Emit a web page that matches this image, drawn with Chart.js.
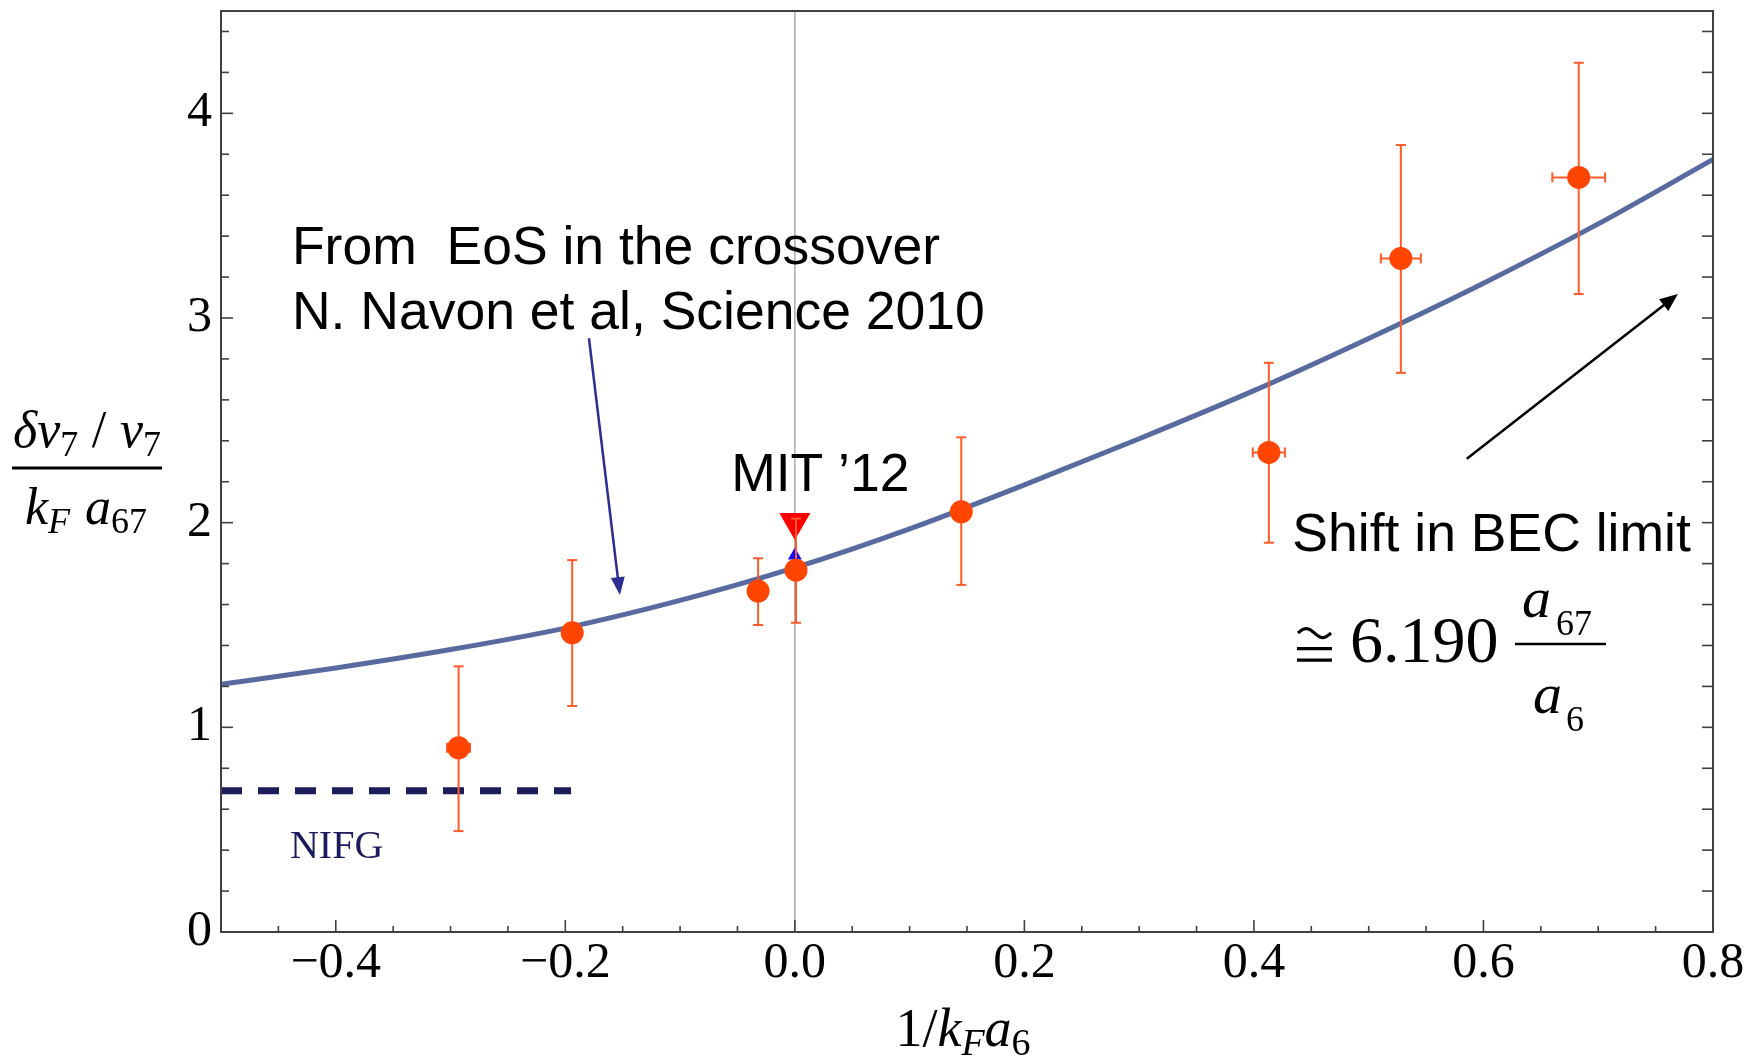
<!DOCTYPE html>
<html><head><meta charset="utf-8">
<script src="https://cdn.jsdelivr.net/npm/chart.js@4.4.0/dist/chart.umd.min.js"></script>
<style>html,body{margin:0;padding:0;background:#fff;}canvas{display:block;}</style>
</head><body>
<canvas id="c" width="1750" height="1060"></canvas>
<script>
// ---- data ----
const xTickValues = [-0.4, -0.2, 0.0, 0.2, 0.4, 0.6, 0.8];
const yTickValues = [0, 1, 2, 3, 4];
const xRange = [-0.5, 0.8];
const yRange = [0, 4.5];

// theory curve (EoS in the crossover)
const curveX = [-0.5, -0.4, -0.3, -0.2, -0.1, 0.0, 0.1, 0.2, 0.3, 0.4, 0.5, 0.6, 0.7, 0.8];
const curveY = [1.21, 1.29, 1.38, 1.485, 1.62, 1.78, 1.97, 2.185, 2.41, 2.645, 2.90, 3.17, 3.46, 3.775];

// measurements
const pointX   = [-0.293, -0.194, -0.032, 0.001, 0.145, 0.413, 0.528, 0.683];
const pointY   = [0.90, 1.462, 1.666, 1.768, 2.053, 2.343, 3.291, 3.687];
const errYLow  = [0.493, 1.104, 1.500, 1.511, 1.696, 1.902, 2.732, 3.117];
const errYHigh = [1.298, 1.817, 1.826, 2.020, 2.417, 2.781, 3.845, 4.247];
const errX     = [0.010, 0, 0, 0, 0, 0.014, 0.0174, 0.023];

// MIT '12 markers
const mitX = [0.0], mitY = [2.003];
const mitBlueX = [0.0], mitBlueY = [1.84];

// NIFG level
const nifgX = [-0.5, -0.195], nifgY = [0.69, 0.69];

// zero line
const zeroLineX = [0, 0], zeroLineY = [0, 4.5];

// ---- helpers ----
const pts = (xs, ys) => xs.map((x, i) => ({x, y: ys[i]}));
const fmtX = v => (v < 0 ? '\u2212' : '') + Math.abs(v).toFixed(1);
const SERIF = 'Liberation Serif';
const SANS = 'Liberation Sans';
const FRAME = '#404040';

function line(ctx, x1, y1, x2, y2) { ctx.beginPath(); ctx.moveTo(x1, y1); ctx.lineTo(x2, y2); ctx.stroke(); }

function arrow(ctx, x1, y1, x2, y2, color, w, hl, hw) {
  const a = Math.atan2(y2 - y1, x2 - x1);
  const bx = x2 - hl * Math.cos(a), by = y2 - hl * Math.sin(a);
  ctx.save();
  ctx.strokeStyle = color; ctx.fillStyle = color; ctx.lineWidth = w;
  line(ctx, x1, y1, bx + 2 * Math.cos(a), by + 2 * Math.sin(a));
  ctx.beginPath();
  ctx.moveTo(x2, y2);
  ctx.lineTo(bx + hw / 2 * Math.sin(a), by - hw / 2 * Math.cos(a));
  ctx.lineTo(bx - hw / 2 * Math.sin(a), by + hw / 2 * Math.cos(a));
  ctx.closePath(); ctx.fill();
  ctx.restore();
}

// draw a run of text pieces centred at cx (optionally stretched to a target width)
function drawRun(ctx, pieces, cx, baseline, target) {
  let natural = 0, gaps = 0;
  pieces.forEach(p => {
    if (p.gap !== undefined) { natural += p.gap; gaps++; }
    else { ctx.font = p.f; p.w = ctx.measureText(p.t).width; natural += p.w; }
  });
  let extra = 0;
  if (target && gaps > 0) extra = (target - natural) / gaps;
  let total = 0;
  pieces.forEach(p => { total += p.gap !== undefined ? Math.max(0, p.gap + extra) : p.w; });
  let x = cx - total / 2;
  ctx.textAlign = 'left'; ctx.textBaseline = 'alphabetic';
  pieces.forEach(p => {
    if (p.gap !== undefined) { x += Math.max(0, p.gap + extra); return; }
    ctx.font = p.f;
    ctx.fillText(p.t, x, baseline + (p.dy || 0));
    x += p.w;
  });
}

// "approximately equal" sign (tilde over two bars) drawn with strokes
function drawCong(ctx, x, baseline, w) {
  ctx.save();
  ctx.strokeStyle = '#000'; ctx.lineWidth = 3.2; ctx.lineCap = 'butt';
  line(ctx, x, baseline - 2, x + w, baseline - 2);
  line(ctx, x, baseline - 13.5, x + w, baseline - 13.5);
  ctx.beginPath();
  for (let i = 0; i <= 24; i++) {
    const t = i / 24;
    const px = x + 1 + t * (w - 2), py = baseline - 29 - 4.5 * Math.sin(2 * Math.PI * t);
    if (i === 0) ctx.moveTo(px, py); else ctx.lineTo(px, py);
  }
  ctx.stroke();
  ctx.restore();
}

// ---- annotation placement (anchored in data units) ----
const notes = [
  {text: 'From  EoS in the crossover', x: -0.4382, y: 3.262},
  {text: 'N. Navon et al, Science 2010', x: -0.4382, y: 2.944},
  {text: 'MIT \u201912', x: -0.0555, y: 2.155},
  {text: 'Shift in BEC limit', x: 0.4335, y: 1.8616}
];
const nifgLabel = {text: 'NIFG', x: -0.4399, y: 0.3615};
const becAnchor = {x: 0.4375, y: 1.319};
const blueArrow = {x1: -0.1794, y1: 2.901, x2: -0.1524, y2: 1.646};
const blackArrow = {x1: 0.5855, y1: 2.312, x2: 0.7694, y2: 3.117};

const framePlugin = {
  id: 'framePlugin',
  beforeDatasetDraw(chart, args) {
    if (args.index !== 0) return;
    const {ctx, scales: {x, y}} = chart;
    ctx.save();
    ctx.strokeStyle = '#ff5a2a'; ctx.lineWidth = 2;
    pointX.forEach((px, i) => {
      const cx = x.getPixelForValue(px), cy = y.getPixelForValue(pointY[i]);
      const yt = y.getPixelForValue(errYHigh[i]), yb = y.getPixelForValue(errYLow[i]);
      line(ctx, cx, yt, cx, yb);
      line(ctx, cx - 5, yt, cx + 5, yt);
      line(ctx, cx - 5, yb, cx + 5, yb);
      if (errX[i] > 0) {
        const xl = x.getPixelForValue(px - errX[i]), xr = x.getPixelForValue(px + errX[i]);
        line(ctx, xl, cy, xr, cy);
        line(ctx, xl, cy - 5, xl, cy + 5);
        line(ctx, xr, cy - 5, xr, cy + 5);
      }
    });
    ctx.restore();
  },
  afterDatasetsDraw(chart) {
    const {ctx, chartArea: a, scales: {x, y}} = chart;
    const P = (xv, yv) => [x.getPixelForValue(xv), y.getPixelForValue(yv)];
    ctx.save();
    // frame
    ctx.strokeStyle = FRAME; ctx.lineWidth = 2;
    ctx.strokeRect(a.left, a.top, a.right - a.left, a.bottom - a.top);
    ctx.lineWidth = 1.6;
    // bottom ticks every 0.05, major every 0.2
    for (let i = 1; i < 26; i++) {
      const v = xRange[0] + 0.05 * i;
      const major = Math.abs(v / 0.2 - Math.round(v / 0.2)) < 1e-6;
      const px = x.getPixelForValue(v);
      line(ctx, px, a.bottom, px, a.bottom - (major ? 12 : 6));
    }
    // left / right ticks every 0.2
    for (let i = 1; i <= 22; i++) {
      const v = 0.2 * i;
      const major = Math.abs(v - Math.round(v)) < 1e-6;
      const py = y.getPixelForValue(v);
      line(ctx, a.left, py, a.left + (major ? 12 : 8), py);
      line(ctx, a.right, py, a.right - 11, py);
    }
    // text notes
    ctx.fillStyle = '#000'; ctx.textAlign = 'left'; ctx.textBaseline = 'alphabetic';
    ctx.font = '53.5px ' + SANS;
    notes.forEach(n => { const [px, py] = P(n.x, n.y); ctx.fillText(n.text, px, py); });
    // NIFG
    ctx.fillStyle = '#1c1c5c'; ctx.font = '40px ' + SERIF;
    { const [px, py] = P(nifgLabel.x, nifgLabel.y); ctx.fillText(nifgLabel.text, px, py); }
    // BEC formula
    ctx.fillStyle = '#000';
    {
      const [bx, by] = P(becAnchor.x, becAnchor.y);
      drawCong(ctx, bx, by, 35);
      ctx.font = '66px ' + SERIF; ctx.fillText('6.190', bx + 53, by);
      ctx.strokeStyle = '#000'; ctx.lineWidth = 2.5;
      line(ctx, bx + 218, by - 18, bx + 309, by - 18);
      ctx.font = 'italic 58px ' + SERIF; ctx.fillText('a', bx + 225, by - 45);
      ctx.font = '36px ' + SERIF; ctx.fillText('67', bx + 259, by - 27);
      ctx.font = 'italic 58px ' + SERIF; ctx.fillText('a', bx + 236, by + 51);
      ctx.font = '36px ' + SERIF; ctx.fillText('6', bx + 269, by + 69);
    }
    // arrows
    { const [x1, y1] = P(blueArrow.x1, blueArrow.y1), [x2, y2] = P(blueArrow.x2, blueArrow.y2);
      arrow(ctx, x1, y1, x2, y2, '#2d2d92', 2.5, 18, 14); }
    { const [x1, y1] = P(blackArrow.x1, blackArrow.y1), [x2, y2] = P(blackArrow.x2, blackArrow.y2);
      arrow(ctx, x1, y1, x2, y2, '#000000', 2.5, 18, 15); }
    ctx.restore();
  },
  afterDraw(chart) {
    const {ctx, chartArea: a} = chart;
    ctx.save();
    ctx.fillStyle = '#000';
    // y-axis title as a fraction
    const it = s => 'italic ' + s + 'px ' + SERIF, up = s => s + 'px ' + SERIF;
    drawRun(ctx, [
      {t: '\u03b4\u03bd', f: it(52)}, {t: '7', f: up(36), dy: 9}, {gap: 8},
      {t: '/', f: up(52)}, {gap: 8},
      {t: '\u03bd', f: it(52)}, {t: '7', f: up(36), dy: 9}
    ], 87, 447, 148);
    ctx.strokeStyle = '#000'; ctx.lineWidth = 3;
    line(ctx, 12, 468, 162, 468);
    drawRun(ctx, [
      {t: 'k', f: it(52)}, {t: 'F', f: it(36), dy: 9}, {gap: 8},
      {t: 'a', f: it(52)}, {t: '67', f: up(36), dy: 9}
    ], 86, 524, 122);
    // x-axis title
    drawRun(ctx, [
      {t: '1/', f: up(54)}, {t: 'k', f: it(54)}, {t: 'F', f: it(38), dy: 9},
      {t: 'a', f: it(54)}, {t: '6', f: up(38), dy: 9}
    ], (a.left + a.right) / 2 - 4, 1046);
    ctx.restore();
  }
};

new Chart(document.getElementById('c').getContext('2d'), {
  type: 'scatter',
  data: {
    datasets: [
      {label: 'data', data: pts(pointX, pointY), pointRadius: 11.5, pointHoverRadius: 11.5,
       pointBackgroundColor: '#ff4500', pointBorderWidth: 0, showLine: false, order: 0},
      {label: 'MIT12', data: pts(mitX, mitY), pointStyle: 'triangle', rotation: 180,
       pointRadius: 18, pointHoverRadius: 18, pointBackgroundColor: '#ff0000', pointBorderWidth: 0, showLine: false, order: 1},
      {label: 'MIT12b', data: pts(mitBlueX, mitBlueY), pointStyle: 'triangle', rotation: 0,
       pointRadius: 8, pointBackgroundColor: '#1010ff', pointBorderWidth: 0, showLine: false, order: 2},
      {label: 'EoS', data: pts(curveX, curveY), showLine: true, pointRadius: 0, borderWidth: 5,
       borderColor: 'rgb(88,106,160)', cubicInterpolationMode: 'monotone', order: 3},
      {label: 'NIFG', data: pts(nifgX, nifgY), showLine: true, pointRadius: 0, borderWidth: 7,
       borderColor: '#1c1c5c', borderDash: [21, 16], borderCapStyle: 'butt', order: 4},
      {label: 'zero', data: pts(zeroLineX, zeroLineY), showLine: true, pointRadius: 0, borderWidth: 1.5,
       borderColor: '#aaaaaa', order: 5}
    ]
  },
  options: {
    responsive: false, animation: false, devicePixelRatio: 1,
    layout: {autoPadding: false, padding: {top: 11, right: 37, left: 0, bottom: 0}},
    plugins: {legend: {display: false}, tooltip: {enabled: false}},
    events: [],
    scales: {
      x: {
        type: 'linear', min: xRange[0], max: xRange[1],
        grid: {display: false, drawTicks: false}, border: {display: false},
        afterBuildTicks: s => { s.ticks = xTickValues.map(v => ({value: v})); },
        afterFit: s => { s.height = 128; s.paddingLeft = 0; s.paddingRight = 0; },
        ticks: {font: {family: SERIF, size: 50}, color: '#000', padding: 2,
                maxRotation: 0, autoSkip: false, callback: v => fmtX(v)}
      },
      y: {
        type: 'linear', min: yRange[0], max: yRange[1],
        grid: {display: false, drawTicks: false}, border: {display: false},
        afterBuildTicks: s => { s.ticks = yTickValues.map(v => ({value: v})); },
        afterFit: s => { s.width = 221; s.paddingTop = 0; s.paddingBottom = 0; },
        ticks: {font: {family: SERIF, size: 50}, color: '#000', padding: 9,
                autoSkip: false, callback: v => String(v)}
      }
    }
  },
  plugins: [framePlugin]
});
</script>
</body></html>
